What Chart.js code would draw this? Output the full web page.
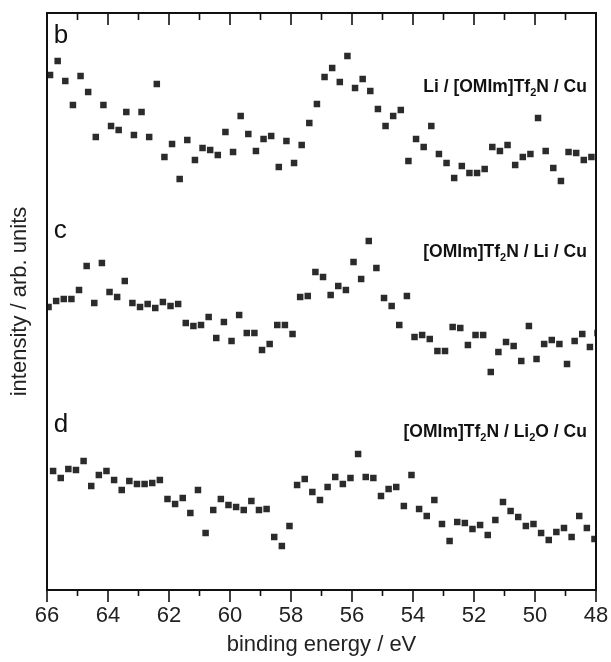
<!DOCTYPE html>
<html>
<head>
<meta charset="utf-8">
<script src="https://cdn.jsdelivr.net/npm/chart.js@4"></script>
<style>
  html, body { margin: 0; padding: 0; background: #fff; }
  #wrap { width: 611px; height: 662px; position: relative; }
</style>
</head>
<body>
<div id="wrap"><canvas id="xpsChart"></canvas></div>
<script>
// Li 1s region, binding energy (eV) of every scan point
const energyB = [65.9, 65.65, 65.4, 65.15, 64.9, 64.65, 64.4, 64.15, 63.9, 63.65, 63.4, 63.15, 62.9, 62.65, 62.4, 62.15, 61.9, 61.65, 61.4, 61.15, 60.9, 60.65, 60.4, 60.15, 59.9, 59.65, 59.4, 59.15, 58.9, 58.65, 58.4, 58.15, 57.9, 57.65, 57.4, 57.15, 56.9, 56.65, 56.4, 56.15, 55.9, 55.65, 55.4, 55.15, 54.9, 54.65, 54.4, 54.15, 53.9, 53.65, 53.4, 53.15, 52.9, 52.65, 52.4, 52.15, 51.9, 51.65, 51.4, 51.15, 50.9, 50.65, 50.4, 50.15, 49.9, 49.65, 49.4, 49.15, 48.9, 48.65, 48.4, 48.15];
const energyC = [65.95, 65.7, 65.45, 65.2, 64.95, 64.7, 64.45, 64.2, 63.95, 63.7, 63.45, 63.2, 62.95, 62.7, 62.45, 62.2, 61.95, 61.7, 61.45, 61.2, 60.95, 60.7, 60.45, 60.2, 59.95, 59.7, 59.45, 59.2, 58.95, 58.7, 58.45, 58.2, 57.95, 57.7, 57.45, 57.2, 56.95, 56.7, 56.45, 56.2, 55.95, 55.7, 55.45, 55.2, 54.95, 54.7, 54.45, 54.2, 53.95, 53.7, 53.45, 53.2, 52.95, 52.7, 52.45, 52.2, 51.95, 51.7, 51.45, 51.2, 50.95, 50.7, 50.45, 50.2, 49.95, 49.7, 49.45, 49.2, 48.95, 48.7, 48.45, 48.2, 47.95];
const energyD = [65.8, 65.55, 65.3, 65.05, 64.8, 64.55, 64.3, 64.05, 63.8, 63.55, 63.3, 63.05, 62.8, 62.55, 62.3, 62.05, 61.8, 61.55, 61.3, 61.05, 60.8, 60.55, 60.3, 60.05, 59.8, 59.55, 59.3, 59.05, 58.8, 58.55, 58.3, 58.05, 57.8, 57.55, 57.3, 57.05, 56.8, 56.55, 56.3, 56.05, 55.8, 55.55, 55.3, 55.05, 54.8, 54.55, 54.3, 54.05, 53.8, 53.55, 53.3, 53.05, 52.8, 52.55, 52.3, 52.05, 51.8, 51.55, 51.3, 51.05, 50.8, 50.55, 50.3, 50.05, 49.8, 49.55, 49.3, 49.05, 48.8, 48.55, 48.3, 48.05];

// intensities (arb. units), each trace relative to its own baseline
const intensityB = [125, 139, 119, 95, 124, 108, 63, 95, 74, 70, 88, 65, 88, 63, 116, 43, 56, 21, 60, 40, 52, 50, 45, 68, 48, 84, 66, 49, 61, 64, 33, 59, 37, 55, 77, 96, 123, 132, 118, 144, 112, 121, 109, 91, 74, 84, 90, 39, 61, 53, 74, 46, 37, 22, 34, 27, 27, 31, 53, 49, 55, 35, 43, 46, 82, 49, 32, 19, 48, 47, 40, 43];
const intensityC = [93, 99, 101, 101, 110, 134, 97, 137, 108, 103, 119, 97, 93, 96, 92, 98, 94, 96, 77, 74, 75, 83, 62, 78, 59, 85, 67, 67, 50, 56, 75, 75, 66, 103, 104, 128, 123, 105, 114, 110, 138, 121, 159, 132, 102, 94, 75, 104, 63, 65, 61, 49, 49, 73, 72, 55, 65, 65, 28, 48, 58, 54, 39, 74, 41, 56, 60, 56, 36, 59, 66, 53, 67];
const intensityD = [119, 112, 121, 120, 129, 104, 115, 119, 110, 100, 109, 106, 106, 107, 110, 91, 86, 92, 77, 100, 57, 80, 91, 85, 83, 80, 89, 80, 81, 53, 44, 64, 105, 111, 98, 90, 103, 113, 106, 112, 136, 113, 112, 94, 101, 103, 84, 115, 81, 74, 90, 66, 49, 68, 67, 61, 65, 55, 70, 88, 79, 73, 64, 66, 57, 50, 58, 62, 53, 74, 62, 51];

// vertical stacking of the three traces
const traceOffsets = [390, 190, 0];
const panelLetters = ["b", "c", "d"];
const sampleNames = [
  [["Li / [OMIm]Tf"], ["2", true], ["N / Cu"]],
  [["[OMIm]Tf"], ["2", true], ["N / Li / Cu"]],
  [["[OMIm]Tf"], ["2", true], ["N / Li"], ["2", true], ["O / Cu"]],
];
const tickLabels = [66, 64, 62, 60, 58, 56, 54, 52, 50, 48];
const minorTicks = [65, 63, 61, 59, 57, 55, 53, 51, 49];

// where the annotations sit, in axis units
const letterLevels = [547, 352, 158];
const nameLevels = [498, 333, 153];
const nameRightEnergy = 48.3;
const letterEnergy = 65.78;

const FONT = "'Liberation Sans', Arial, sans-serif";
const INK = "#2b2b2b";

function toPoints(xs, ys, offset) {
  return xs.map((e, i) => ({ x: e, y: ys[i] + offset }));
}

function drawRich(ctx, parts, right, baseline, size) {
  const big = `bold ${size}px ${FONT}`;
  const small = `bold ${Math.round(size * 0.62)}px ${FONT}`;
  let total = 0;
  parts.forEach(([t, sub]) => {
    ctx.font = sub ? small : big;
    total += ctx.measureText(t).width;
  });
  let x = right - total;
  parts.forEach(([t, sub]) => {
    ctx.font = sub ? small : big;
    ctx.fillText(t, x, sub ? baseline + size * 0.22 : baseline);
    x += ctx.measureText(t).width;
  });
}

const framePlugin = {
  id: "frame",
  afterDatasetsDraw(chart) {
    const { ctx, chartArea: a, scales } = chart;
    const x = scales.x, y = scales.y;
    ctx.save();
    ctx.strokeStyle = "#111";
    ctx.lineWidth = 2;
    ctx.strokeRect(a.left, a.top, a.right - a.left, a.bottom - a.top);

    ctx.lineWidth = 1.6;
    ctx.beginPath();
    tickLabels.forEach((e) => {
      const px = x.getPixelForValue(e);
      ctx.moveTo(px, a.bottom); ctx.lineTo(px, a.bottom + 12);
      ctx.moveTo(px, a.top); ctx.lineTo(px, a.top + 12);
    });
    minorTicks.forEach((e) => {
      const px = x.getPixelForValue(e);
      ctx.moveTo(px, a.bottom); ctx.lineTo(px, a.bottom + 6);
      ctx.moveTo(px, a.top); ctx.lineTo(px, a.top + 7);
    });
    ctx.stroke();

    ctx.fillStyle = "#111";
    ctx.textBaseline = "alphabetic";
    ctx.textAlign = "left";
    panelLetters.forEach((l, i) => {
      ctx.font = `26px ${FONT}`;
      ctx.fillText(l, x.getPixelForValue(letterEnergy), y.getPixelForValue(letterLevels[i]));
      drawRich(ctx, sampleNames[i], x.getPixelForValue(nameRightEnergy), y.getPixelForValue(nameLevels[i]), 17.5);
    });
    ctx.restore();
  },
};

const datasets = [
  [energyB, intensityB],
  [energyC, intensityC],
  [energyD, intensityD],
].map(([xs, ys], i) => ({
  label: panelLetters[i],
  data: toPoints(xs, ys, traceOffsets[i]),
  pointStyle: "rect",
  pointRadius: 4.6,
  pointBorderWidth: 0,
  backgroundColor: INK,
  borderColor: INK,
  clip: 0,
}));

new Chart(document.getElementById("xpsChart"), {
  type: "scatter",
  data: { datasets },
  options: {
    responsive: true,
    maintainAspectRatio: false,
    animation: false,
    events: [],
    layout: { padding: { top: 13, right: 15, bottom: 0, left: 0 } },
    plugins: { legend: { display: false }, tooltip: { enabled: false } },
    scales: {
      x: {
        type: "linear",
        reverse: true,
        min: 48,
        max: 66,
        afterBuildTicks: (s) => { s.ticks = tickLabels.map((v) => ({ value: v })); },
        afterFit: (s) => { s.height = 72; },
        grid: { display: false, drawTicks: true, tickLength: 12 },
        border: { display: false },
        ticks: { color: "#222", padding: 1, maxRotation: 0, font: { family: FONT, size: 22 } },
        title: {
          display: true,
          text: "binding energy / eV",
          color: "#222",
          padding: { top: 0, bottom: 4 },
          font: { family: FONT, size: 22 },
        },
      },
      y: {
        min: 0,
        max: 577,
        afterFit: (s) => { s.width = 47; },
        grid: { display: false, drawTicks: false },
        border: { display: false },
        ticks: { display: false },
        title: {
          display: true,
          text: "intensity / arb. units",
          color: "#222",
          padding: { top: 7, bottom: 0 },
          font: { family: FONT, size: 22 },
        },
      },
    },
  },
  plugins: [framePlugin],
});
</script>
</body>
</html>
